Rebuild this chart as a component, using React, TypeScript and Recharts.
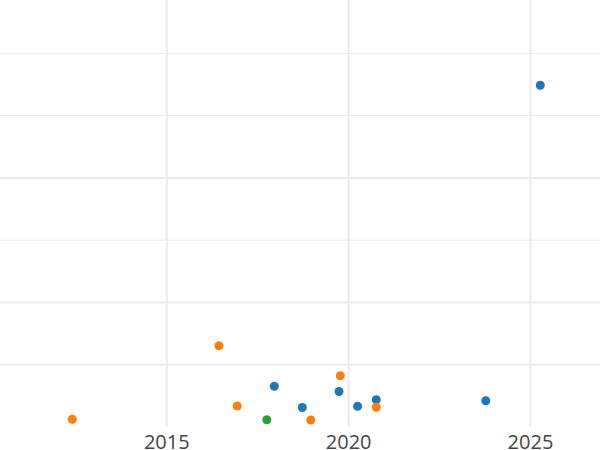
import React from "react";
import {
  ScatterChart,
  Scatter,
  XAxis,
  YAxis,
  ReferenceLine,
} from "recharts";

const xTicks = [2015, 2020, 2025];
const xDomain: [number, number] = [2010.414, 2026.911];
const yDomain: [number, number] = [0, 6.856];
const yGridMajor = [1, 2, 4];
const yGridMinor = [3, 5, 6];

const blueSeries = [
  { x: 2025.27, y: 5.487 },
  { x: 2017.956, y: 0.654 },
  { x: 2018.726, y: 0.313 },
  { x: 2019.735, y: 0.57 },
  { x: 2020.246, y: 0.334 },
  { x: 2020.76, y: 0.438 },
  { x: 2023.771, y: 0.422 },
];
const orangeSeries = [
  { x: 2012.402, y: 0.124 },
  { x: 2016.433, y: 1.304 },
  { x: 2016.936, y: 0.337 },
  { x: 2018.96, y: 0.112 },
  { x: 2019.771, y: 0.822 },
  { x: 2020.76, y: 0.318 },
];
const greenSeries = [{ x: 2017.75, y: 0.117 }];

const GRID = "#ebebeb";

const dot = (color: string) => (props: any) => (
  <circle cx={props.cx} cy={props.cy} r={4.5} fill={color} />
);

export default function App() {
  return (
    <div style={{ position: "absolute", left: 0, top: 0 }}>
      <ScatterChart
        width={600}
        height={450}
        margin={{ top: 0, right: 0, bottom: 0, left: 0 }}
      >
        <XAxis
          type="number"
          dataKey="x"
          domain={xDomain}
          allowDataOverflow
          ticks={xTicks}
          axisLine={false}
          tickLine={false}
          height={23}
          tick={{ fontFamily: "Open Sans", fontSize: 20, fill: "#444" }}
        />
        <YAxis
          type="number"
          dataKey="y"
          domain={yDomain}
          allowDataOverflow
          hide
        />
        {xTicks.map((v) => (
          <ReferenceLine key={"x" + v} x={v} stroke={GRID} strokeWidth={2} />
        ))}
        {yGridMajor.map((v) => (
          <ReferenceLine key={"M" + v} y={v} stroke={GRID} strokeWidth={2} />
        ))}
        {yGridMinor.map((v) => (
          <ReferenceLine key={"m" + v} y={v} stroke={GRID} strokeWidth={1} />
        ))}
        <Scatter
          data={blueSeries}
          fill="#1f77b4"
          shape={dot("#1f77b4")}
          isAnimationActive={false}
        />
        <Scatter
          data={orangeSeries}
          fill="#ff7f0e"
          shape={dot("#ff7f0e")}
          isAnimationActive={false}
        />
        <Scatter
          data={greenSeries}
          fill="#2ca02c"
          shape={dot("#2ca02c")}
          isAnimationActive={false}
        />
      </ScatterChart>
    </div>
  );
}
